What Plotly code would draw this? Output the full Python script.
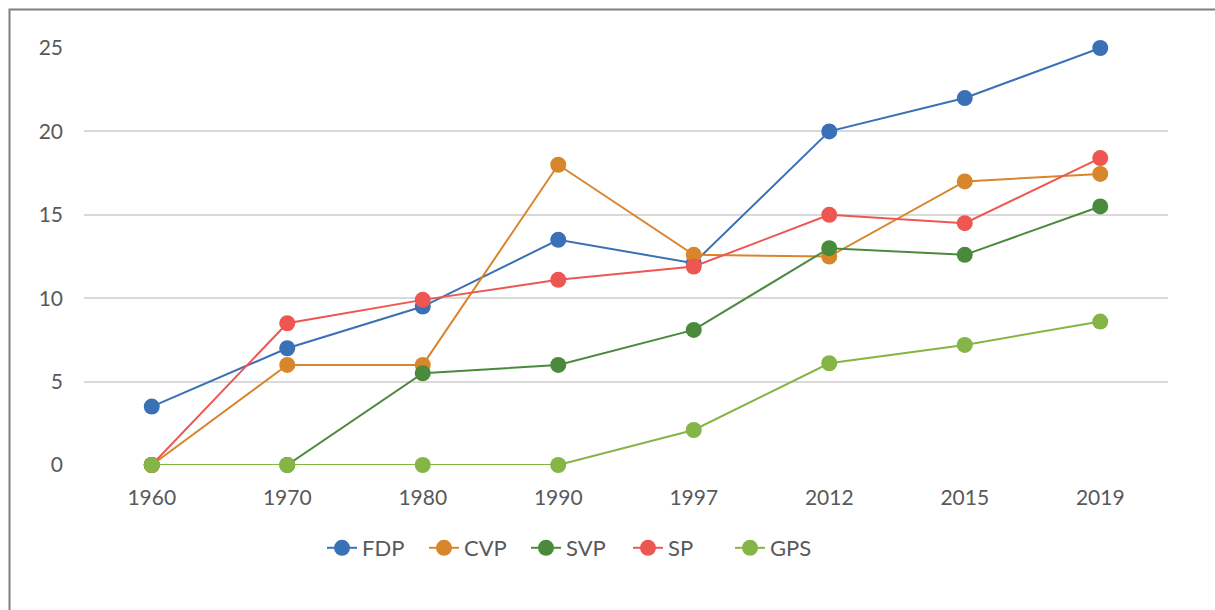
import plotly.graph_objects as go

years = ["1960", "1970", "1980", "1990", "1997", "2012", "2015", "2019"]
fdp = [3.5, 7.0, 9.5, 13.5, 12.1, 20.0, 22.0, 25.0]
cvp = [0.0, 6.0, 6.0, 18.0, 12.6, 12.5, 17.0, 17.45]
svp = [0.0, 0.0, 5.5, 6.0, 8.1, 13.0, 12.6, 15.5]
sp = [0.0, 8.5, 9.9, 11.1, 11.9, 15.0, 14.5, 18.4]
gps = [0.0, 0.0, 0.0, 0.0, 2.1, 6.1, 7.2, 8.6]
y_ticks = [0, 5, 10, 15, 20, 25]

series = [
    ("FDP", fdp, "#3A70B6"),
    ("CVP", cvp, "#D8862C"),
    ("SVP", svp, "#4A8A3D"),
    ("SP", sp, "#EE5651"),
    ("GPS", gps, "#85B546"),
]

FONT = "Lato, 'Open Sans', sans-serif"

fig = go.Figure()
for name, vals, col in series:
    fig.add_trace(go.Scatter(
        x=years, y=vals, name=name, mode="lines+markers",
        line=dict(color=col, width=2),
        marker=dict(color=col, size=16),
        cliponaxis=False,
    ))

W, H = 1215, 610
L, R, T, B = 84, 1168, 48, 465
pw, ph = R - L, B - T
fig.update_layout(
    width=W, height=H, autosize=False,
    margin=dict(l=L, r=W - R, t=T, b=H - B),
    paper_bgcolor="white", plot_bgcolor="white",
    font=dict(family=FONT, size=21, color="#595959"),
    xaxis=dict(type="category", range=[-0.5, 7.5], showgrid=False,
               showline=False, zeroline=False, ticks="",
               ticklabelstandoff=18,
               tickfont=dict(size=21, color="#595959")),
    yaxis=dict(range=[0, 25], tickvals=y_ticks, showgrid=True,
               gridcolor="#D9D9D9", gridwidth=1.5, zeroline=False,
               showline=False, ticks="", ticklabelstandoff=20,
               tickfont=dict(size=21, color="#595959")),
    legend=dict(orientation="h", x=(322 - L) / pw, xanchor="left",
                y=(B - 548) / ph, yanchor="middle",
                font=dict(size=22, color="#595959"),
                entrywidth=57, tracegroupgap=0),
    showlegend=True,
)

fig.add_shape(type="rect", xref="paper", yref="paper",
              x0=(9.5 - L) / pw, x1=(W + 20 - L) / pw,
              y0=(B - (H + 20)) / ph, y1=(B - 9.5) / ph,
              line=dict(color="#7F7F7F", width=2), layer="below")

fig.write_html("out.html", config={"displayModeBar": False},
               post_script="document.body.style.margin='0';document.body.style.overflow='hidden';")
